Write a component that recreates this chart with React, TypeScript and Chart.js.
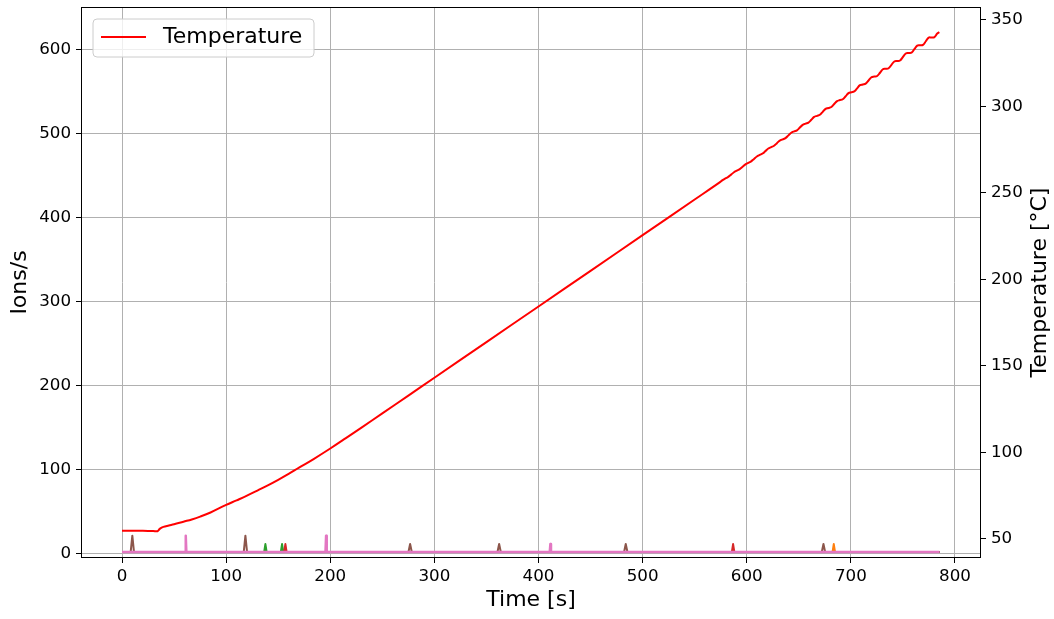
import React, { useEffect, useRef } from "react";
import { Chart, registerables } from "chart.js";

Chart.register(...registerables);

const FONT = "'DejaVu Sans', 'Liberation Sans', sans-serif";

// Heating ramp: time [s] and temperature [°C]
const tempTime = [
  0, 10, 20, 30, 34, 36.5, 39.7, 45, 50, 59, 67, 75, 85, 100, 110, 120, 130, 140, 150, 160, 170, 184,
  200, 215, 230, 250, 275, 300, 350, 400, 450, 500, 550,
  574, 576.75, 579.5, 582.25, 585, 587.75, 590.5, 593.25, 596, 598.75, 601.5, 604.25, 607, 609.75,
  612.5, 615.25, 618, 620.75, 623.5, 626.25, 629, 631.75, 634.5, 637.25, 640, 642.75, 645.5, 648.25,
  651, 653.75, 656.5, 659.25, 662, 664.75, 667.5, 670.25, 673, 675.75, 678.5, 681.25, 684, 686.75,
  689.5, 692.25, 695, 697.75, 700.5, 703.25, 706, 708.75, 711.5, 714.25, 717, 719.75, 722.5, 725.25,
  728, 730.75, 733.5, 736.25, 739, 741.75, 744.5, 747.25, 750, 752.75, 755.5, 758.25, 761, 763.75,
  766.5, 769.25, 772, 774.75, 777.5, 780.25, 783, 785,
];
const tempValue = [
  54.8, 54.8, 54.7, 54.6, 54.5, 56.0, 57.0, 57.8, 58.5, 60.0, 61.3, 62.9, 65.3, 69.7, 72.3, 75.0, 78.0, 81.0, 84.2, 87.6, 91.2, 96.2,
  102.3, 108.3, 114.4, 122.6, 132.9, 143.2, 163.8, 184.4, 205.0, 225.6, 246.2,
  256.1, 257.4, 258.4, 259.3, 260.6, 262.0, 262.9, 263.8, 265.2, 266.5, 267.4, 268.3, 269.7, 271.1,
  272.0, 272.8, 274.2, 275.7, 276.5, 277.3, 278.8, 280.3, 281.0, 281.7, 283.3, 284.8, 285.6, 286.2,
  287.8, 289.4, 290.1, 290.7, 292.3, 294.0, 294.6, 295.2, 296.9, 298.6, 299.1, 299.7, 301.4, 303.1,
  303.7, 304.2, 305.9, 307.7, 308.2, 308.7, 310.5, 312.3, 312.7, 313.2, 315.0, 316.9, 317.3, 317.6,
  319.5, 321.5, 321.8, 322.1, 324.1, 326.0, 326.3, 326.6, 328.6, 330.6, 330.9, 331.1, 333.1, 335.2,
  335.4, 335.6, 337.7, 339.8, 339.9, 340.1, 342.2, 343.0,
];

// Ion count rates: flat baseline with short bursts
const runEnd = 785;
const ionBaseline = 1.5;

const blueTimes: number[] = [];
const bluePeaks: number[] = [];
const orangeTimes = [683.6];
const orangePeaks = [11];
const greenTimes = [137.7, 153.7];
const greenPeaks = [11, 11];
const redTimes = [156.9, 586.9];
const redPeaks = [11, 11];
const purpleTimes: number[] = [];
const purplePeaks: number[] = [];
const brownTimes = [9.9, 118.5, 276.7, 362.2, 483.8, 673.7];
const brownPeaks = [21, 21, 11, 11, 11, 11];
const pinkTimes = [61.2, 196, 411.4];
const pinkPeaks = [21, 21, 11];

// Axis tick values
const xTicks = [0, 100, 200, 300, 400, 500, 600, 700, 800];
const ionTicks = [0, 100, 200, 300, 400, 500, 600];
const tempTicks = [50, 100, 150, 200, 250, 300, 350];

function burstSeries(times: number[], peaks: number[], halfWidth: number) {
  const pts: { x: number; y: number }[] = [{ x: 0, y: ionBaseline }];
  times.forEach((t, i) => {
    pts.push({ x: t - halfWidth, y: ionBaseline });
    pts.push({ x: t, y: peaks[i] });
    pts.push({ x: t + halfWidth, y: ionBaseline });
  });
  pts.push({ x: runEnd, y: ionBaseline });
  return pts;
}

const GRID = "#b0b0b0";

const frame = {
  id: "frame",
  afterDatasetsDraw(chart: any) {
    const { ctx, chartArea } = chart;
    const { left, right, top, bottom } = chartArea;
    ctx.save();
    ctx.strokeStyle = "#000";
    ctx.lineWidth = 1;
    ctx.strokeRect(left + 0.5, top + 0.5, right - left - 1, bottom - top - 1);
    ctx.restore();
  },
  afterDraw(chart: any) {
    const { ctx, chartArea } = chart;
    const { left, top, bottom } = chartArea;
    ctx.save();
    // legend box
    const bx = left + 12;
    const by = top + 12;
    const bw = 221;
    const bh = 38;
    const r = 4;
    ctx.beginPath();
    ctx.moveTo(bx + r, by);
    ctx.lineTo(bx + bw - r, by);
    ctx.arcTo(bx + bw, by, bx + bw, by + r, r);
    ctx.lineTo(bx + bw, by + bh - r);
    ctx.arcTo(bx + bw, by + bh, bx + bw - r, by + bh, r);
    ctx.lineTo(bx + r, by + bh);
    ctx.arcTo(bx, by + bh, bx, by + bh - r, r);
    ctx.lineTo(bx, by + r);
    ctx.arcTo(bx, by, bx + r, by, r);
    ctx.closePath();
    ctx.fillStyle = "rgba(255,255,255,0.8)";
    ctx.fill();
    ctx.strokeStyle = "#cccccc";
    ctx.lineWidth = 1;
    ctx.stroke();
    ctx.beginPath();
    ctx.moveTo(bx + 8, by + 18);
    ctx.lineTo(bx + 53, by + 18);
    ctx.strokeStyle = "#ff0000";
    ctx.lineWidth = 2;
    ctx.stroke();
    ctx.fillStyle = "#000";
    ctx.font = `22px ${FONT}`;
    ctx.textAlign = "left";
    ctx.textBaseline = "middle";
    ctx.fillText("Temperature", bx + 70, by + 18);
    // right axis title, reading upward
    ctx.translate(1040, (top + bottom) / 2);
    ctx.rotate(-Math.PI / 2);
    ctx.textAlign = "center";
    ctx.fillText("Temperature [°C]", 0, 0);
    ctx.restore();
  },
};

function fixed(size: { width?: number; height?: number }) {
  return (scale: any) => {
    if (size.width !== undefined) scale.width = size.width;
    if (size.height !== undefined) scale.height = size.height;
    scale.paddingTop = 0;
    scale.paddingBottom = 0;
    scale.paddingLeft = 0;
    scale.paddingRight = 0;
  };
}

export default function App() {
  const ref = useRef<HTMLCanvasElement | null>(null);

  useEffect(() => {
    if (!ref.current) return;
    const tickFont = { family: FONT, size: 16.7 };
    const titleFont = { family: FONT, size: 22 };
    const line = (label: string, color: string, data: any, width = 2) => ({
      label,
      data,
      borderColor: color,
      backgroundColor: color,
      borderWidth: width,
      borderJoinStyle: "round" as const,
      pointRadius: 0,
      tension: 0,
      yAxisID: "y",
    });
    const chart = new Chart(ref.current, {
      type: "line",
      data: {
        datasets: [
          {
            label: "Temperature",
            data: tempTime.map((t, i) => ({ x: t, y: tempValue[i] })),
            borderColor: "#ff0000",
            backgroundColor: "#ff0000",
            borderWidth: 2,
            pointRadius: 0,
            tension: 0.4,
            yAxisID: "y2",
          },
          line("Ion series 7", "#e377c2", burstSeries(pinkTimes, pinkPeaks, 0.6), 2.5),
          line("Ion series 6", "#8c564b", burstSeries(brownTimes, brownPeaks, 1.6)),
          line("Ion series 5", "#9467bd", burstSeries(purpleTimes, purplePeaks, 1.2)),
          line("Ion series 4", "#d62728", burstSeries(redTimes, redPeaks, 1.2)),
          line("Ion series 3", "#2ca02c", burstSeries(greenTimes, greenPeaks, 1.2)),
          line("Ion series 2", "#ff7f0e", burstSeries(orangeTimes, orangePeaks, 1.2)),
          line("Ion series 1", "#1f77b4", burstSeries(blueTimes, bluePeaks, 1.2)),
        ],
      },
      options: {
        responsive: false,
        animation: false,
        devicePixelRatio: 1,
        layout: { padding: { top: 7, left: 0, right: 0, bottom: 0 } },
        plugins: { legend: { display: false }, tooltip: { enabled: false } },
        scales: {
          x: {
            type: "linear",
            min: -39.4,
            max: 825.0,
            afterFit: fixed({ height: 61 }),
            afterBuildTicks: (s: any) => {
              s.ticks = xTicks.map((v) => ({ value: v }));
            },
            border: { display: false },
            grid: { color: GRID, lineWidth: 1, tickColor: "#000", tickLength: 5 },
            ticks: { font: tickFont, color: "#000", padding: 4, maxRotation: 0 },
            title: { display: true, text: "Time [s]", font: titleFont, color: "#000", padding: { top: 0, bottom: 6 } },
          },
          y: {
            type: "linear",
            position: "left",
            min: -5.6,
            max: 650.4,
            afterFit: fixed({ width: 81 }),
            afterBuildTicks: (s: any) => {
              s.ticks = ionTicks.map((v) => ({ value: v }));
            },
            border: { display: false },
            grid: { color: GRID, lineWidth: 1, tickColor: "#000", tickLength: 5 },
            ticks: { font: tickFont, color: "#000", padding: 5 },
            title: { display: true, text: "Ions/s", font: titleFont, color: "#000", padding: { top: 7, bottom: 0 } },
          },
          y2: {
            type: "linear",
            position: "right",
            min: 39.0,
            max: 357.5,
            afterFit: fixed({ width: 73 }),
            afterBuildTicks: (s: any) => {
              s.ticks = tempTicks.map((v) => ({ value: v }));
            },
            border: { display: false },
            grid: { drawOnChartArea: false, tickColor: "#000", tickLength: 5 },
            ticks: { font: tickFont, color: "#000", padding: 5 },
          },
        },
      },
      plugins: [frame],
    });
    return () => chart.destroy();
  }, []);

  return (
    <div style={{ position: "fixed", left: 0, top: 0, width: 1054, height: 619, background: "#fff" }}>
      <canvas ref={ref} width={1054} height={619} style={{ display: "block" }} />
    </div>
  );
}
